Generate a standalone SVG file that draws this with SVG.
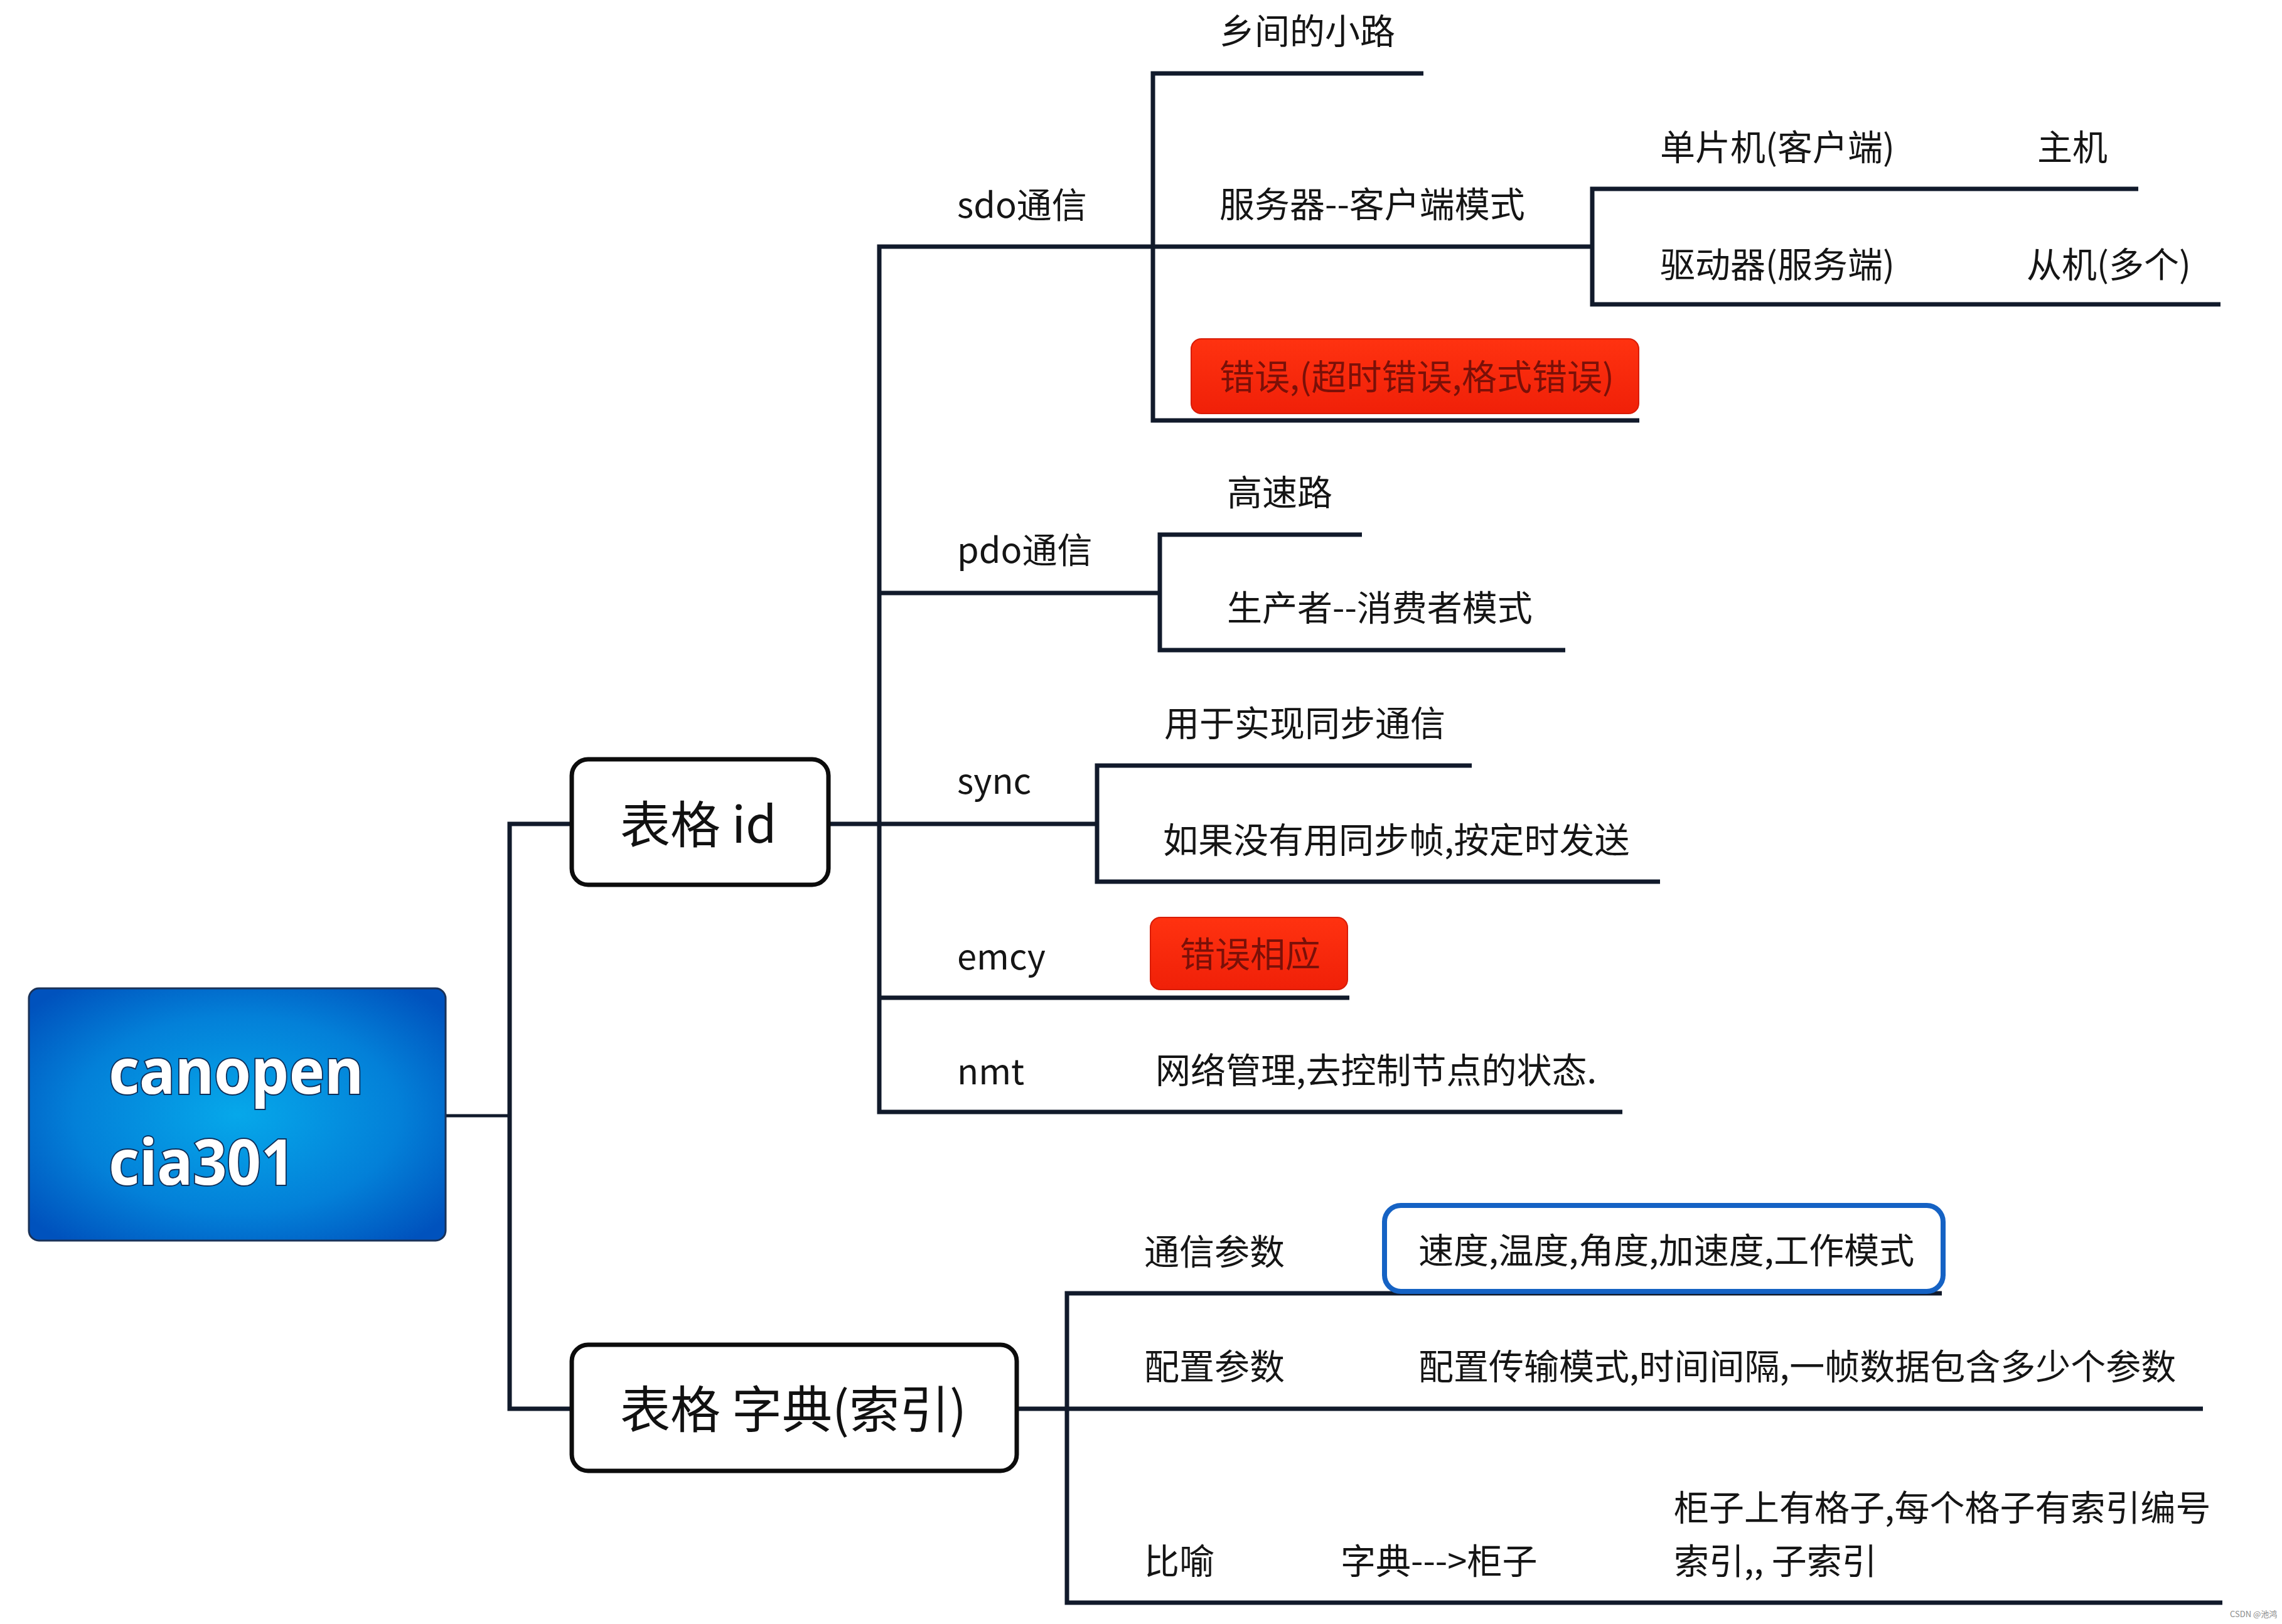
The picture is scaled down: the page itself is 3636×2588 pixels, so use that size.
<svg xmlns="http://www.w3.org/2000/svg" width="3636" height="2588" viewBox="0 0 3636 2588">
<defs>
<radialGradient id="rootg" cx="0.5" cy="0.5" r="0.65">
<stop offset="0" stop-color="#06a8ea"/>
<stop offset="0.6" stop-color="#0380d8"/>
<stop offset="1" stop-color="#0052bd"/>
</radialGradient>
<linearGradient id="redg" x1="0" y1="0" x2="0" y2="1">
<stop offset="0" stop-color="#ff3210"/>
<stop offset="1" stop-color="#f02008"/>
</linearGradient>
</defs>
<style>
.ln{fill:none;stroke:#111a2b;stroke-width:7;stroke-linejoin:miter;stroke-linecap:butt}
.t{font-family:"Noto Sans CJK SC","Noto Sans",sans-serif;font-size:56px;fill:#151515}
.big{font-family:"Noto Sans CJK SC","Noto Sans",sans-serif;font-size:80px;fill:#111}
.rt{font-family:"Noto Sans","Noto Sans CJK SC",sans-serif;font-weight:bold;font-size:100px;fill:#fff;stroke:#10305a;stroke-width:4;paint-order:stroke}
.box{fill:#fff;stroke:#0c0c0c;stroke-width:7}
.red{fill:url(#redg);stroke:#d81c08;stroke-width:2}
.rtx{font-family:"Noto Sans CJK SC",sans-serif;font-size:56px;fill:#7a1008}
</style>
<rect width="3636" height="2588" fill="#fff"/>
<g id="connectors">
<path class="ln" d="M710 1778 H812" stroke="#3a3f48" style="stroke-width:5"/>
<path class="ln" d="M911 1313 H812 V2245 H911"/>
<path class="ln" d="M1320 1313 H1748"/>
<path class="ln" d="M1837 393 H1401 V1772 H2585"/>
<path class="ln" d="M1401 945 H1848"/>
<path class="ln" d="M1401 1590 H2150"/>
<path class="ln" d="M2268 117 H1837 V670 H2612"/>
<path class="ln" d="M1837 393 H2537"/>
<path class="ln" d="M3407 301 H2537 V485 H3538"/>
<path class="ln" d="M2170 852 H1848 V1036 H2494"/>
<path class="ln" d="M2345 1220 H1748 V1405 H2645"/>
<path class="ln" d="M1620 2245 H3510"/>
<path class="ln" d="M3094 2061 H1700 V2554 H3541"/>
</g>
<g id="root">
<rect x="46" y="1575" width="664" height="402" rx="16" fill="url(#rootg)" stroke="#1a3258" stroke-width="3"/>
<text class="rt" x="173" y="1743" textLength="406" lengthAdjust="spacingAndGlyphs">canopen</text>
<text class="rt" x="173" y="1888" textLength="297" lengthAdjust="spacingAndGlyphs">cia301</text>
</g>
<g id="node-id">
<rect class="box" x="911" y="1210" width="409" height="200" rx="26"/>
<text class="big" x="988" y="1343">表格 id</text>
</g>
<g id="node-dict">
<rect class="box" x="911" y="2143" width="709" height="201" rx="26"/>
<text class="big" x="988" y="2275">表格 字典(索引)</text>
</g>
<g id="sdo">
<text class="t" x="1525" y="347">sdo通信</text>
</g>
<g id="sdo-road"><text class="t" x="1943" y="70">乡间的小路</text></g>
<g id="sdo-cs"><text class="t" x="1943" y="346">服务器--客户端模式</text></g>
<g id="sdo-mcu"><text class="t" x="2645" y="255">单片机(客户端)</text><text class="t" x="3246" y="255">主机</text></g>
<g id="sdo-drv"><text class="t" x="2645" y="442">驱动器(服务端)</text><text class="t" x="3229" y="442">从机(多个)</text></g>
<g id="sdo-err">
<rect class="red" x="1898" y="540" width="713" height="119" rx="16"/>
<text class="rtx" x="1943" y="621">错误,(超时错误,格式错误)</text>
</g>
<g id="pdo"><text class="t" x="1525" y="897">pdo通信</text></g>
<g id="pdo-road"><text class="t" x="1955" y="805">高速路</text></g>
<g id="pdo-pc"><text class="t" x="1955" y="989">生产者--消费者模式</text></g>
<g id="sync"><text class="t" x="1525" y="1265">sync</text></g>
<g id="sync-a"><text class="t" x="1855" y="1173">用于实现同步通信</text></g>
<g id="sync-b"><text class="t" x="1853" y="1359">如果没有用同步帧,按定时发送</text></g>
<g id="emcy"><text class="t" x="1525" y="1545">emcy</text></g>
<g id="emcy-err">
<rect class="red" x="1833" y="1462" width="314" height="115" rx="16"/>
<text class="rtx" x="1880" y="1541">错误相应</text>
</g>
<g id="nmt"><text class="t" x="1525" y="1728">nmt</text></g>
<g id="nmt-a"><text class="t" x="1841" y="1726">网络管理,去控制节点的状态.</text></g>
<g id="comm"><text class="t" x="1823" y="2015">通信参数</text></g>
<g id="comm-a">
<rect x="2206" y="1921" width="890" height="137" rx="26" fill="#fff" stroke="#1562c4" stroke-width="8"/>
<text class="t" x="2260" y="2013">速度,温度,角度,加速度,工作模式</text>
</g>
<g id="conf"><text class="t" x="1823" y="2198">配置参数</text></g>
<g id="conf-a"><text class="t" x="2260" y="2198">配置传输模式,时间间隔,一帧数据包含多少个参数</text></g>
<g id="meta"><text class="t" x="1823" y="2508">比喻</text></g>
<g id="meta-a"><text class="t" x="2136" y="2508">字典---&gt;柜子</text></g>
<g id="meta-b"><text class="t" x="2667" y="2423">柜子上有格子,每个格子有索引编号</text><text class="t" x="2667" y="2508">索引,, 子索引</text></g>
<text x="3553" y="2577" font-family="Noto Sans CJK SC, sans-serif" font-size="13" fill="#8a8a8a">CSDN @池鸿</text>
</svg>
